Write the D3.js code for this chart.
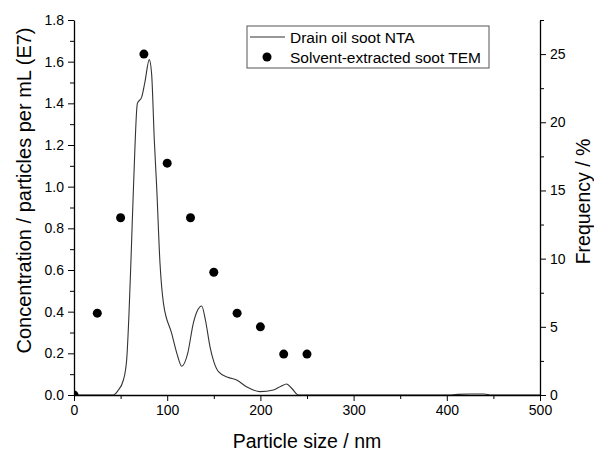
<!DOCTYPE html>
<html>
<head>
<meta charset="utf-8">
<script src="https://cdn.jsdelivr.net/npm/d3@7"></script>
<style>
  body { margin: 0; background: #fff; }
  text { font-family: "Liberation Sans", Arial, sans-serif; fill: #000; }
  .axis path, .axis line { stroke: #000; }
</style>
</head>
<body>
<div id="chart"></div>
<script>
// NTA concentration curve (E7 particles per mL) vs size
var ntaSize = [0, 42, 47, 53, 56.5, 59, 61, 64, 68, 72.6, 76, 80.8, 83.3, 86.2, 88.7, 92.3, 96, 104.8, 111, 115.5, 122, 128, 133, 137, 141, 146, 150, 155, 165, 174.5, 185, 199.6, 214, 222, 228, 234, 240.7, 405, 412, 425, 440, 448, 500];
var ntaConc = [0, 0, 0.02, 0.072, 0.168, 0.39, 0.63, 1.02, 1.40, 1.43, 1.50, 1.61, 1.54, 1.22, 1.0, 0.63, 0.44, 0.296, 0.19, 0.138, 0.2, 0.344, 0.41, 0.427, 0.36, 0.23, 0.16, 0.112, 0.085, 0.072, 0.04, 0.016, 0.024, 0.042, 0.053, 0.03, 0, 0, 0.003, 0.005, 0.005, 0, 0];

// TEM frequency (%) per size bin
var temSize = [0, 25, 50, 75, 100, 125, 150, 175, 200, 225, 250];
var temFreq = [0, 6, 13, 25, 17, 13, 9, 6, 5, 3, 3];

var xTicks = [0, 100, 200, 300, 400, 500];
var yLeftTicks = [0, 0.2, 0.4, 0.6, 0.8, 1.0, 1.2, 1.4, 1.6, 1.8];
var yRightTicks = [0, 5, 10, 15, 20, 25];

var margin = { top: 20, right: 54, bottom: 60, left: 74 };
var width = 594 - margin.left - margin.right;
var height = 455 - margin.top - margin.bottom;

var svg = d3.select("#chart")
  .append("svg")
  .attr("width", 594)
  .attr("height", 455)
  .append("g")
  .attr("transform", "translate(" + margin.left + "," + margin.top + ")");

var x = d3.scaleLinear().domain([0, 500]).range([0, width]);
var yL = d3.scaleLinear().domain([0, 1.8]).range([height, 0]);
var yR = d3.scaleLinear().domain([0, 27.5]).range([height, 0]);

svg.append("clipPath").attr("id", "clip")
  .append("rect").attr("width", width).attr("height", height);

// minor ticks
svg.append("g").attr("class", "axis")
  .attr("transform", "translate(0," + height + ")")
  .call(d3.axisBottom(x).tickValues(d3.range(50, 500, 100)).tickSize(4).tickFormat(""))
  .select(".domain").remove();
svg.append("g").attr("class", "axis")
  .call(d3.axisLeft(yL).tickValues(d3.range(0.1, 1.8, 0.2)).tickSize(4).tickFormat(""))
  .select(".domain").remove();
svg.append("g").attr("class", "axis")
  .attr("transform", "translate(" + width + ",0)")
  .call(d3.axisRight(yR).tickValues([2.5, 7.5, 12.5, 17.5, 22.5, 27.5]).tickSize(4).tickFormat(""))
  .select(".domain").remove();

// NTA line
var line = d3.line()
  .x(function(d, i) { return x(ntaSize[i]); })
  .y(function(d) { return yL(d); })
  .curve(d3.curveMonotoneX);

svg.append("path")
  .datum(ntaConc)
  .attr("fill", "none")
  .attr("stroke", "#333")
  .attr("stroke-width", 1.1)
  .attr("d", line);

// major axes
svg.append("g").attr("class", "axis")
  .attr("transform", "translate(0," + height + ")")
  .call(d3.axisBottom(x).tickValues(xTicks).tickSize(6).tickSizeOuter(0).tickPadding(4));
svg.append("g").attr("class", "axis")
  .call(d3.axisLeft(yL).tickValues(yLeftTicks).tickFormat(d3.format(".1f")).tickSize(6).tickSizeOuter(0).tickPadding(4));
svg.append("g").attr("class", "axis")
  .attr("transform", "translate(" + width + ",0)")
  .call(d3.axisRight(yR).tickValues(yRightTicks).tickSize(6).tickSizeOuter(0).tickPadding(4));

svg.selectAll(".axis .domain").attr("stroke-width", 1.3);
svg.selectAll(".axis text").style("font-size", "14px").attr("fill", "#000");

// TEM points
svg.append("g").attr("clip-path", "url(#clip)")
  .selectAll("circle")
  .data(temFreq)
  .enter().append("circle")
  .attr("cx", function(d, i) { return x(temSize[i]); })
  .attr("cy", function(d) { return yR(d); })
  .attr("r", 4.5)
  .attr("fill", "#000");

// axis titles
svg.append("text")
  .attr("x", width / 2)
  .attr("y", height + 53)
  .attr("text-anchor", "middle")
  .style("font-size", "19.5px")
  .text("Particle size / nm");

svg.append("text")
  .attr("transform", "rotate(-90)")
  .attr("x", -(height / 2 - 17))
  .attr("y", -43)
  .attr("text-anchor", "middle")
  .style("font-size", "20px")
  .text("Concentration / particles per mL (E7)");

svg.append("text")
  .attr("transform", "rotate(-90)")
  .attr("x", -(height / 2 - 6))
  .attr("y", width + 50)
  .attr("text-anchor", "middle")
  .style("font-size", "19.5px")
  .text("Frequency / %");

// legend
var legend = svg.append("g").attr("transform", "translate(" + (247 - margin.left) + "," + (26 - margin.top) + ")");
legend.append("rect")
  .attr("width", 242).attr("height", 42)
  .attr("fill", "#fff").attr("stroke", "#555").attr("stroke-width", 1);
legend.append("line")
  .attr("x1", 3).attr("x2", 38).attr("y1", 11).attr("y2", 11)
  .attr("stroke", "#333").attr("stroke-width", 1.1);
legend.append("text").attr("x", 43).attr("y", 16.5).style("font-size", "15.5px").text("Drain oil soot NTA");
legend.append("circle").attr("cx", 20).attr("cy", 31).attr("r", 4.5).attr("fill", "#000");
legend.append("text").attr("x", 43).attr("y", 36.5).style("font-size", "15.5px").text("Solvent-extracted soot TEM");
</script>
</body>
</html>
